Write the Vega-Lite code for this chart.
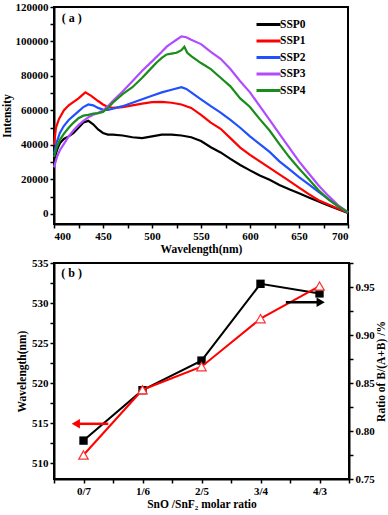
{
  "$schema": "https://vega.github.io/schema/vega-lite/v6.json",
  "padding": {"left": 0, "top": 0, "right": 0, "bottom": 0},
  "background": "white",
  "spacing": 0,
  "config": {
    "view": {"stroke": "black", "strokeWidth": 2},
    "axis": {
      "labelFont": "Liberation Serif", "labelFontWeight": "bold", "labelFontSize": 11, "labelColor": "black",
      "titleFont": "Liberation Serif", "titleFontWeight": "bold", "titleFontSize": 11.5, "titleColor": "black",
      "domainColor": "black", "domainWidth": 2, "tickColor": "black", "tickWidth": 1.5, "tickSize": 4,
      "grid": false, "labelOverlap": false, "labelPadding": 2, "tickCount": 100
    },
    "legend": {"labelFont": "Liberation Serif", "labelFontWeight": "bold", "labelFontSize": 11.5, "labelColor": "black"}
  },
  "datasets": {
    "spectra": [
      {"s": "SSP0", "w": 400, "i": 31000}, {"s": "SSP0", "w": 403, "i": 37000}, {"s": "SSP0", "w": 406, "i": 41000}, {"s": "SSP0", "w": 410, "i": 43500}, {"s": "SSP0", "w": 415, "i": 45000}, {"s": "SSP0", "w": 420, "i": 47000}, {"s": "SSP0", "w": 425, "i": 50000}, {"s": "SSP0", "w": 430, "i": 53000}, {"s": "SSP0", "w": 435, "i": 54000}, {"s": "SSP0", "w": 440, "i": 52000}, {"s": "SSP0", "w": 445, "i": 49000}, {"s": "SSP0", "w": 450, "i": 47000}, {"s": "SSP0", "w": 455, "i": 46000}, {"s": "SSP0", "w": 460, "i": 46000}, {"s": "SSP0", "w": 470, "i": 45500}, {"s": "SSP0", "w": 480, "i": 44500}, {"s": "SSP0", "w": 490, "i": 44000}, {"s": "SSP0", "w": 500, "i": 45000}, {"s": "SSP0", "w": 510, "i": 46000}, {"s": "SSP0", "w": 520, "i": 46000}, {"s": "SSP0", "w": 530, "i": 45500}, {"s": "SSP0", "w": 540, "i": 44500}, {"s": "SSP0", "w": 550, "i": 42300}, {"s": "SSP0", "w": 560, "i": 38700}, {"s": "SSP0", "w": 570, "i": 35700}, {"s": "SSP0", "w": 580, "i": 32000}, {"s": "SSP0", "w": 590, "i": 28400}, {"s": "SSP0", "w": 600, "i": 25300}, {"s": "SSP0", "w": 610, "i": 22300}, {"s": "SSP0", "w": 620, "i": 19800}, {"s": "SSP0", "w": 630, "i": 16800}, {"s": "SSP0", "w": 640, "i": 14300}, {"s": "SSP0", "w": 650, "i": 12000}, {"s": "SSP0", "w": 660, "i": 9600}, {"s": "SSP0", "w": 670, "i": 7200}, {"s": "SSP0", "w": 680, "i": 5000}, {"s": "SSP0", "w": 690, "i": 2800}, {"s": "SSP0", "w": 700, "i": 600},
      {"s": "SSP1", "w": 400, "i": 40000}, {"s": "SSP1", "w": 402, "i": 50000}, {"s": "SSP1", "w": 405, "i": 55000}, {"s": "SSP1", "w": 410, "i": 60000}, {"s": "SSP1", "w": 415, "i": 63000}, {"s": "SSP1", "w": 420, "i": 65000}, {"s": "SSP1", "w": 425, "i": 67000}, {"s": "SSP1", "w": 432, "i": 70500}, {"s": "SSP1", "w": 438, "i": 68500}, {"s": "SSP1", "w": 445, "i": 65500}, {"s": "SSP1", "w": 450, "i": 63500}, {"s": "SSP1", "w": 455, "i": 62000}, {"s": "SSP1", "w": 460, "i": 61500}, {"s": "SSP1", "w": 470, "i": 62000}, {"s": "SSP1", "w": 480, "i": 63000}, {"s": "SSP1", "w": 490, "i": 64000}, {"s": "SSP1", "w": 500, "i": 64800}, {"s": "SSP1", "w": 510, "i": 65000}, {"s": "SSP1", "w": 520, "i": 64500}, {"s": "SSP1", "w": 530, "i": 63500}, {"s": "SSP1", "w": 540, "i": 61500}, {"s": "SSP1", "w": 550, "i": 57500}, {"s": "SSP1", "w": 560, "i": 53000}, {"s": "SSP1", "w": 570, "i": 49400}, {"s": "SSP1", "w": 580, "i": 44000}, {"s": "SSP1", "w": 590, "i": 38500}, {"s": "SSP1", "w": 600, "i": 34300}, {"s": "SSP1", "w": 610, "i": 30500}, {"s": "SSP1", "w": 620, "i": 26700}, {"s": "SSP1", "w": 630, "i": 23000}, {"s": "SSP1", "w": 640, "i": 19200}, {"s": "SSP1", "w": 650, "i": 15300}, {"s": "SSP1", "w": 660, "i": 11500}, {"s": "SSP1", "w": 670, "i": 8000}, {"s": "SSP1", "w": 680, "i": 5500}, {"s": "SSP1", "w": 690, "i": 3000}, {"s": "SSP1", "w": 700, "i": 700},
      {"s": "SSP2", "w": 400, "i": 35000}, {"s": "SSP2", "w": 403, "i": 42000}, {"s": "SSP2", "w": 406, "i": 47000}, {"s": "SSP2", "w": 410, "i": 51000}, {"s": "SSP2", "w": 415, "i": 54500}, {"s": "SSP2", "w": 420, "i": 57000}, {"s": "SSP2", "w": 425, "i": 59500}, {"s": "SSP2", "w": 430, "i": 62000}, {"s": "SSP2", "w": 435, "i": 63500}, {"s": "SSP2", "w": 440, "i": 63000}, {"s": "SSP2", "w": 445, "i": 61500}, {"s": "SSP2", "w": 450, "i": 60500}, {"s": "SSP2", "w": 455, "i": 60300}, {"s": "SSP2", "w": 460, "i": 61000}, {"s": "SSP2", "w": 470, "i": 62500}, {"s": "SSP2", "w": 480, "i": 64500}, {"s": "SSP2", "w": 490, "i": 66500}, {"s": "SSP2", "w": 500, "i": 68500}, {"s": "SSP2", "w": 510, "i": 70500}, {"s": "SSP2", "w": 520, "i": 72000}, {"s": "SSP2", "w": 530, "i": 73500}, {"s": "SSP2", "w": 535, "i": 72500}, {"s": "SSP2", "w": 540, "i": 70500}, {"s": "SSP2", "w": 550, "i": 66500}, {"s": "SSP2", "w": 560, "i": 62500}, {"s": "SSP2", "w": 570, "i": 58800}, {"s": "SSP2", "w": 580, "i": 54500}, {"s": "SSP2", "w": 590, "i": 50000}, {"s": "SSP2", "w": 600, "i": 45000}, {"s": "SSP2", "w": 610, "i": 40500}, {"s": "SSP2", "w": 620, "i": 36000}, {"s": "SSP2", "w": 630, "i": 30500}, {"s": "SSP2", "w": 640, "i": 26000}, {"s": "SSP2", "w": 650, "i": 21400}, {"s": "SSP2", "w": 660, "i": 17200}, {"s": "SSP2", "w": 670, "i": 12800}, {"s": "SSP2", "w": 680, "i": 8600}, {"s": "SSP2", "w": 690, "i": 4500}, {"s": "SSP2", "w": 700, "i": 800},
      {"s": "SSP3", "w": 400, "i": 27000}, {"s": "SSP3", "w": 403, "i": 33000}, {"s": "SSP3", "w": 406, "i": 37000}, {"s": "SSP3", "w": 410, "i": 40500}, {"s": "SSP3", "w": 415, "i": 45000}, {"s": "SSP3", "w": 420, "i": 48500}, {"s": "SSP3", "w": 425, "i": 51500}, {"s": "SSP3", "w": 430, "i": 54000}, {"s": "SSP3", "w": 435, "i": 56000}, {"s": "SSP3", "w": 440, "i": 57500}, {"s": "SSP3", "w": 445, "i": 58500}, {"s": "SSP3", "w": 450, "i": 60000}, {"s": "SSP3", "w": 455, "i": 62500}, {"s": "SSP3", "w": 460, "i": 65500}, {"s": "SSP3", "w": 470, "i": 71000}, {"s": "SSP3", "w": 480, "i": 77000}, {"s": "SSP3", "w": 490, "i": 83000}, {"s": "SSP3", "w": 500, "i": 88500}, {"s": "SSP3", "w": 510, "i": 94000}, {"s": "SSP3", "w": 515, "i": 97000}, {"s": "SSP3", "w": 520, "i": 99000}, {"s": "SSP3", "w": 525, "i": 101000}, {"s": "SSP3", "w": 530, "i": 103000}, {"s": "SSP3", "w": 535, "i": 102500}, {"s": "SSP3", "w": 540, "i": 101000}, {"s": "SSP3", "w": 550, "i": 98500}, {"s": "SSP3", "w": 560, "i": 94000}, {"s": "SSP3", "w": 570, "i": 90000}, {"s": "SSP3", "w": 580, "i": 84000}, {"s": "SSP3", "w": 590, "i": 77000}, {"s": "SSP3", "w": 600, "i": 70500}, {"s": "SSP3", "w": 610, "i": 62500}, {"s": "SSP3", "w": 620, "i": 54500}, {"s": "SSP3", "w": 630, "i": 46500}, {"s": "SSP3", "w": 640, "i": 38500}, {"s": "SSP3", "w": 650, "i": 30500}, {"s": "SSP3", "w": 660, "i": 23500}, {"s": "SSP3", "w": 670, "i": 16500}, {"s": "SSP3", "w": 680, "i": 10500}, {"s": "SSP3", "w": 690, "i": 5000}, {"s": "SSP3", "w": 700, "i": 1000},
      {"s": "SSP4", "w": 400, "i": 33000}, {"s": "SSP4", "w": 403, "i": 39000}, {"s": "SSP4", "w": 406, "i": 43000}, {"s": "SSP4", "w": 410, "i": 46500}, {"s": "SSP4", "w": 415, "i": 50000}, {"s": "SSP4", "w": 420, "i": 53000}, {"s": "SSP4", "w": 425, "i": 55500}, {"s": "SSP4", "w": 430, "i": 57000}, {"s": "SSP4", "w": 435, "i": 57500}, {"s": "SSP4", "w": 440, "i": 58200}, {"s": "SSP4", "w": 445, "i": 58500}, {"s": "SSP4", "w": 450, "i": 59200}, {"s": "SSP4", "w": 455, "i": 61500}, {"s": "SSP4", "w": 460, "i": 64500}, {"s": "SSP4", "w": 470, "i": 69500}, {"s": "SSP4", "w": 480, "i": 73500}, {"s": "SSP4", "w": 490, "i": 79000}, {"s": "SSP4", "w": 500, "i": 85000}, {"s": "SSP4", "w": 505, "i": 88000}, {"s": "SSP4", "w": 510, "i": 90500}, {"s": "SSP4", "w": 515, "i": 92500}, {"s": "SSP4", "w": 520, "i": 93000}, {"s": "SSP4", "w": 525, "i": 93500}, {"s": "SSP4", "w": 530, "i": 95000}, {"s": "SSP4", "w": 533, "i": 97000}, {"s": "SSP4", "w": 536, "i": 93500}, {"s": "SSP4", "w": 540, "i": 91500}, {"s": "SSP4", "w": 545, "i": 89500}, {"s": "SSP4", "w": 550, "i": 87500}, {"s": "SSP4", "w": 560, "i": 84000}, {"s": "SSP4", "w": 570, "i": 79000}, {"s": "SSP4", "w": 580, "i": 74000}, {"s": "SSP4", "w": 590, "i": 67000}, {"s": "SSP4", "w": 600, "i": 62000}, {"s": "SSP4", "w": 610, "i": 55000}, {"s": "SSP4", "w": 620, "i": 48400}, {"s": "SSP4", "w": 630, "i": 40500}, {"s": "SSP4", "w": 640, "i": 33000}, {"s": "SSP4", "w": 650, "i": 26400}, {"s": "SSP4", "w": 660, "i": 20200}, {"s": "SSP4", "w": 670, "i": 13800}, {"s": "SSP4", "w": 680, "i": 8500}, {"s": "SSP4", "w": 690, "i": 4500}, {"s": "SSP4", "w": 700, "i": 900}
    ],
    "wave": [
      {"r": 0, "wl": 512.8}, {"r": 1, "wl": 519.1}, {"r": 2, "wl": 522.8}, {"r": 3, "wl": 532.4}, {"r": 4, "wl": 531.2}
    ],
    "ratio": [
      {"r": 0, "b": 0.775}, {"r": 1, "b": 0.843}, {"r": 2, "b": 0.867}, {"r": 3, "b": 0.917}, {"r": 4, "b": 0.951}
    ],
    "leftArrow": [{"x1": -0.1, "x2": 0.42, "y": 514.9}],
    "leftHead": [{"x": -0.13, "y": 514.9}],
    "rightArrow": [{"x1": 3.43, "x2": 3.98, "y": 0.934}],
    "rightHead": [{"x": 4.02, "y": 0.934}]
  },
  "vconcat": [
    {
      "width": 294,
      "height": 217,
      "layer": [
        {
          "data": {"name": "spectra"},
          "mark": {"type": "line", "strokeWidth": 2.2},
          "encoding": {
            "x": {"field": "w", "type": "quantitative", "scale": {"domain": [400, 700], "nice": false},
              "axis": {"title": "Wavelength(nm)", "tickCount": 100, "labelOverlap": false, "values": [400, 425, 450, 475, 500, 525, 550, 575, 600, 625, 650, 675, 700],
                "labelExpr": "datum.value % 50 == 0 ? datum.label : ''", "titlePadding": 2}},
            "y": {"field": "i", "type": "quantitative", "scale": {"domain": [-5800, 120000], "nice": false, "zero": false},
              "axis": {"title": "Intensity", "format": "d", "tickCount": 100, "labelOverlap": false, "values": [0, 10000, 20000, 30000, 40000, 50000, 60000, 70000, 80000, 90000, 100000, 110000, 120000],
                "labelExpr": "datum.value % 20000 == 0 ? datum.label : ''", "titleX": -42}},
            "color": {"field": "s", "type": "nominal",
              "scale": {"domain": ["SSP0", "SSP1", "SSP2", "SSP3", "SSP4"], "range": ["#000000", "#ff0000", "#2050ff", "#b04cff", "#1a8c1a"]},
              "legend": {"title": null, "orient": "none", "legendX": 207, "legendY": 10, "symbolType": "M-2,0H2", "symbolStrokeWidth": 3, "symbolSize": 144, "rowPadding": 2.5, "labelOffset": 4}}
          }
        },
        {
          "data": {"values": [{"x": 418, "y": 113500, "t": "( a )"}]},
          "mark": {"type": "text", "font": "Liberation Serif", "fontWeight": "bold", "fontSize": 12},
          "encoding": {
            "x": {"field": "x", "type": "quantitative"},
            "y": {"field": "y", "type": "quantitative"},
            "text": {"field": "t"}
          }
        }
      ]
    },
    {
      "width": 295,
      "height": 216,
      "layer": [
        {
          "layer": [
            {
              "data": {"name": "wave"},
              "mark": {"type": "line", "color": "black", "strokeWidth": 2},
              "encoding": {
                "x": {"field": "r", "type": "quantitative"},
                "y": {"field": "wl", "type": "quantitative"}
              }
            },
            {
              "data": {"name": "wave"},
              "mark": {"type": "point", "shape": "square", "filled": true, "color": "black", "size": 70, "opacity": 1},
              "encoding": {
                "x": {"field": "r", "type": "quantitative"},
                "y": {"field": "wl", "type": "quantitative"}
              }
            },
            {
              "data": {"name": "leftArrow"},
              "mark": {"type": "rule", "color": "#ff0000", "strokeWidth": 2.5},
              "encoding": {
                "x": {"field": "x1", "type": "quantitative"},
                "x2": {"field": "x2"},
                "y": {"field": "y", "type": "quantitative"}
              }
            },
            {
              "data": {"name": "leftHead"},
              "mark": {"type": "point", "shape": "triangle-left", "filled": true, "color": "#ff0000", "size": 90, "opacity": 1},
              "encoding": {
                "x": {"field": "x", "type": "quantitative"},
                "y": {"field": "y", "type": "quantitative"}
              }
            },
            {
              "data": {"values": [{"x": -0.2, "y": 533.8, "t": "( b )"}]},
              "mark": {"type": "text", "font": "Liberation Serif", "fontWeight": "bold", "fontSize": 12},
              "encoding": {
                "x": {"field": "x", "type": "quantitative"},
                "y": {"field": "y", "type": "quantitative"},
                "text": {"field": "t"}
              }
            }
          ],
          "encoding": {
            "x": {"type": "quantitative", "scale": {"domain": [-0.5, 4.5], "nice": false, "zero": false},
              "axis": {"title": "SnO /SnF₂ molar ratio", "tickCount": 100, "labelOverlap": false, "values": [-0.5, 0, 0.5, 1, 1.5, 2, 2.5, 3, 3.5, 4, 4.5],
                "labelExpr": "datum.value == 0 ? '0/7' : datum.value == 1 ? '1/6' : datum.value == 2 ? '2/5' : datum.value == 3 ? '3/4' : datum.value == 4 ? '4/3' : ''", "titlePadding": 2}},
            "y": {"type": "quantitative", "scale": {"domain": [508, 535], "nice": false, "zero": false},
              "axis": {"title": "Wavelength(nm)", "orient": "left", "format": "d", "tickCount": 100, "labelOverlap": false, "values": [510, 512.5, 515, 517.5, 520, 522.5, 525, 527.5, 530, 532.5, 535],
                "labelExpr": "datum.value % 5 == 0 ? datum.label : ''", "titlePadding": 4}}
          }
        },
        {
          "layer": [
            {
              "data": {"name": "ratio"},
              "mark": {"type": "line", "color": "#ff0000", "strokeWidth": 2},
              "encoding": {
                "x": {"field": "r", "type": "quantitative"},
                "y": {"field": "b", "type": "quantitative"}
              }
            },
            {
              "data": {"name": "ratio"},
              "mark": {"type": "point", "shape": "triangle-up", "filled": false, "stroke": "#ff3030", "fill": "white", "fillOpacity": 1, "strokeWidth": 1.2, "size": 90, "opacity": 1},
              "encoding": {
                "x": {"field": "r", "type": "quantitative"},
                "y": {"field": "b", "type": "quantitative"}
              }
            },
            {
              "data": {"name": "rightArrow"},
              "mark": {"type": "rule", "color": "black", "strokeWidth": 2.5},
              "encoding": {
                "x": {"field": "x1", "type": "quantitative"},
                "x2": {"field": "x2"},
                "y": {"field": "y", "type": "quantitative"}
              }
            },
            {
              "data": {"name": "rightHead"},
              "mark": {"type": "point", "shape": "triangle-right", "filled": true, "color": "black", "size": 90, "opacity": 1},
              "encoding": {
                "x": {"field": "x", "type": "quantitative"},
                "y": {"field": "y", "type": "quantitative"}
              }
            }
          ],
          "encoding": {
            "y": {"type": "quantitative", "scale": {"domain": [0.75, 0.975], "nice": false, "zero": false},
              "axis": {"title": "Ratio of B/(A+B) /%", "orient": "right", "titleAngle": 270, "titleBaseline": "top", "format": ".2f", "tickCount": 100, "labelOverlap": false, "values": [0.75, 0.775, 0.8, 0.825, 0.85, 0.875, 0.9, 0.925, 0.95, 0.975],
                "labelExpr": "abs(datum.value * 20 - round(datum.value * 20)) < 0.001 ? datum.label : ''", "titlePadding": 1}}
          }
        }
      ],
      "resolve": {"scale": {"y": "independent"}}
    }
  ]
}
